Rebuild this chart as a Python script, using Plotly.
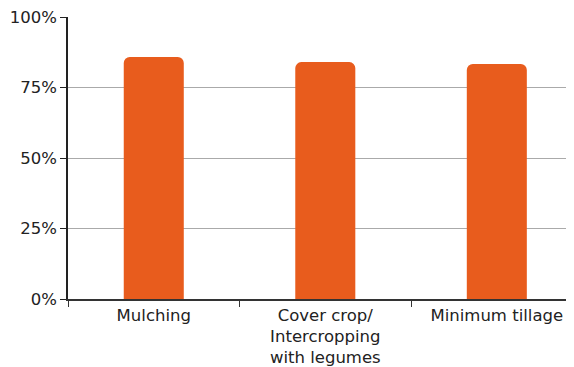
import plotly.graph_objects as go

# Data
categories = ['Mulching', 'Cover crop/<br>Intercropping<br>with legumes', 'Minimum tillage']
shares = [85.8, 84.0, 83.3]
y_ticks = [0, 25, 50, 75, 100]
y_tick_labels = ['0%', '25%', '50%', '75%', '100%']

fig = go.Figure()

fig.add_trace(go.Bar(
    x=categories,
    y=shares,
    marker=dict(color='#E85C1D', cornerradius=6, line=dict(width=0)),
    width=0.35,
    hoverinfo='skip'
))

# page body adds 8px, so the figure is a bit smaller than the window
fig.update_layout(
    width=566,
    height=359,
    margin=dict(l=60, r=0, t=9, b=68),
    plot_bgcolor='white',
    paper_bgcolor='white',
    showlegend=False,
    font=dict(family='DejaVu Sans', size=16.5, color='#222222')
)

fig.update_xaxes(
    range=[-0.5, 2.45],
    automargin=False,
    showline=True,
    linecolor='#333333',
    linewidth=1.5,
    ticks='outside',
    tickson='boundaries',
    ticklen=6,
    tickcolor='#333333',
    showgrid=False,
    tickfont=dict(size=16.5)
)

fig.update_yaxes(
    range=[0, 100],
    automargin=False,
    ticklabeloverflow='allow',
    tickvals=y_ticks,
    ticktext=y_tick_labels,
    showline=True,
    linecolor='#222222',
    linewidth=1.5,
    ticks='outside',
    ticklen=6,
    tickcolor='#222222',
    showgrid=True,
    gridcolor='#aaaaaa',
    gridwidth=1,
    zeroline=False,
    tickfont=dict(size=16.5)
)

fig.write_html('out.html')
